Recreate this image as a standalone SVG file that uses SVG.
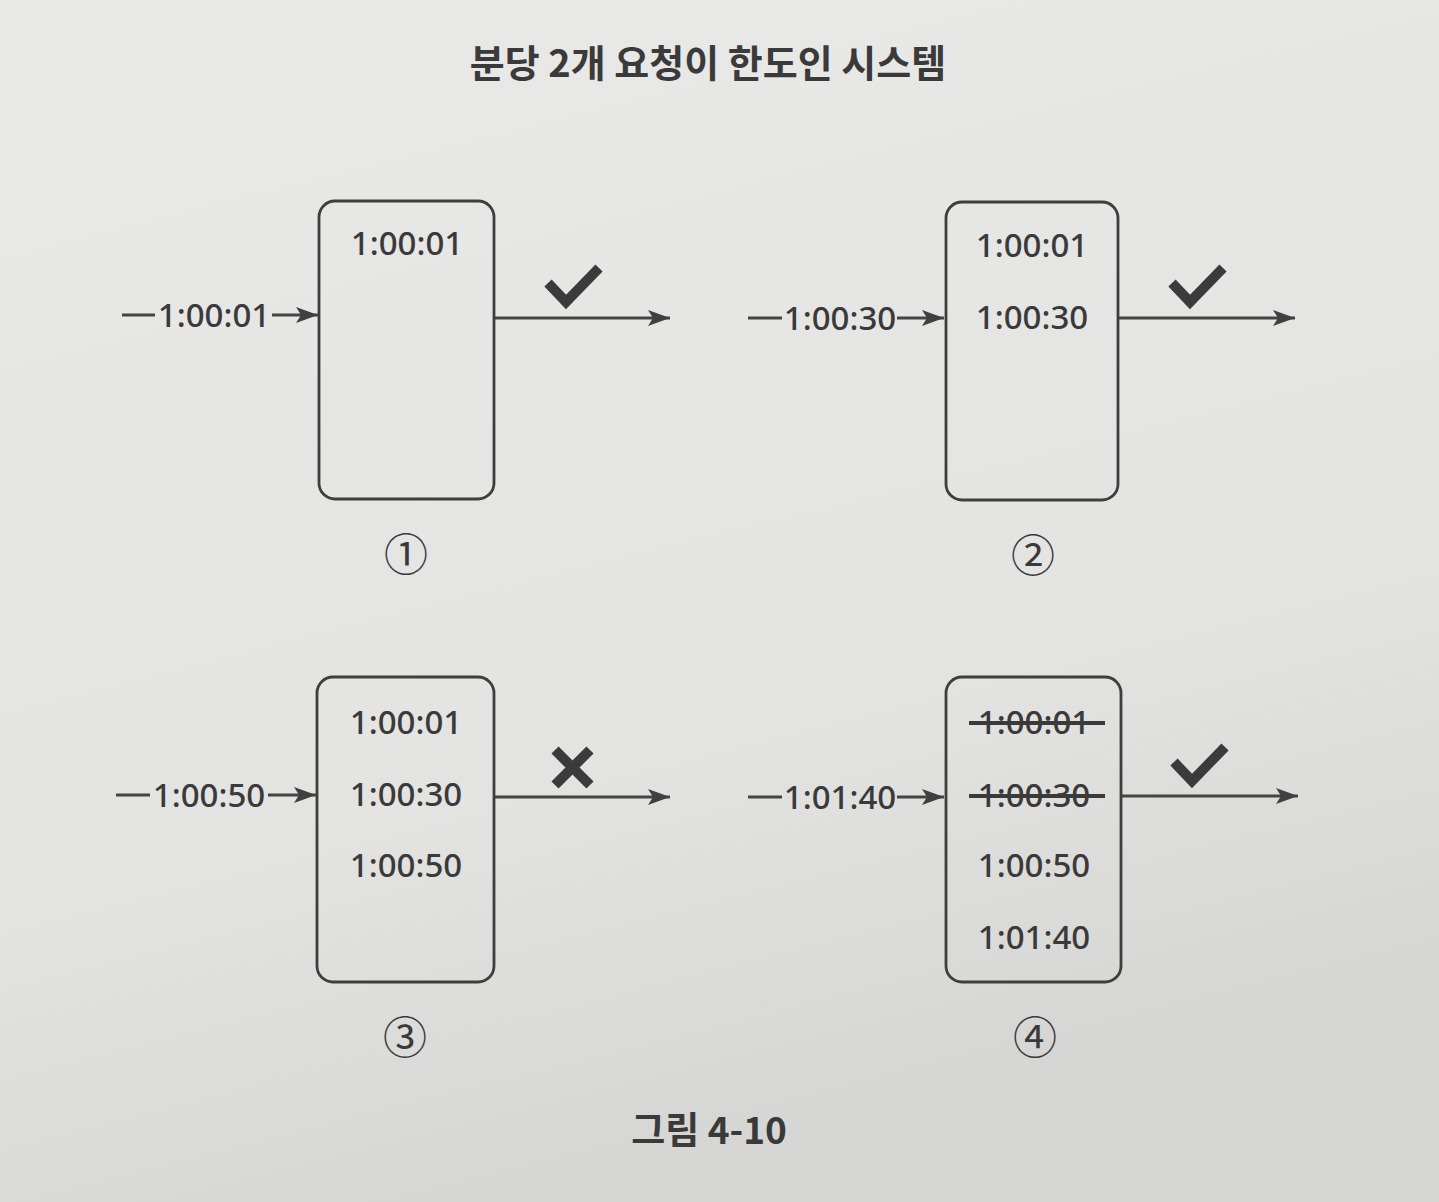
<svg xmlns="http://www.w3.org/2000/svg" width="1439" height="1202" viewBox="0 0 1439 1202">
<defs>
<linearGradient id="bg" x1="0" y1="0" x2="0.3" y2="1">
<stop offset="0" stop-color="#e9e9e7"/>
<stop offset="0.7" stop-color="#e3e3e1"/>
<stop offset="1" stop-color="#d6d6d4"/>
</linearGradient>
<marker id="ah" markerWidth="24" markerHeight="20" refX="22" refY="10" orient="auto" markerUnits="userSpaceOnUse">
<path d="M0,2 L22,10 L0,18 L5,10 Z" fill="#404040"/>
</marker>
<style>
.box{fill:none;stroke:#3e3e3e;stroke-width:2.8}
.ln{fill:none;stroke:#444;stroke-width:2.8}
.t{font-family:"Noto Sans","Noto Sans CJK KR",sans-serif;font-size:33px;font-weight:500;fill:#3a3a3a;text-anchor:middle}
.h{font-family:"Noto Sans CJK KR","Noto Sans",sans-serif;font-weight:bold;fill:#3a3a3a;text-anchor:middle}
.n{font-family:"Noto Sans CJK KR","Noto Sans",sans-serif;font-size:44px;fill:#3a3a3a;text-anchor:middle}
.mk{fill:none;stroke:#3b3b3b;stroke-width:10}
.st{stroke:#3a3a3a;stroke-width:4}
</style>
</defs>
<rect width="1439" height="1202" fill="url(#bg)"/>
<text class="h" x="708" y="77" font-size="38">분당 2개 요청이 한도인 시스템</text>

<g id="connectors">
<line class="ln" x1="122" y1="315" x2="155" y2="315"/>
<line class="ln" x1="272" y1="315" x2="318" y2="315" marker-end="url(#ah)"/>
<line class="ln" x1="494" y1="318" x2="670" y2="318" marker-end="url(#ah)"/>
<line class="ln" x1="748" y1="318" x2="782" y2="318"/>
<line class="ln" x1="897" y1="318" x2="944" y2="318" marker-end="url(#ah)"/>
<line class="ln" x1="1118" y1="318" x2="1295" y2="318" marker-end="url(#ah)"/>
<line class="ln" x1="116" y1="795" x2="150" y2="795"/>
<line class="ln" x1="268" y1="795" x2="316" y2="795" marker-end="url(#ah)"/>
<line class="ln" x1="494" y1="797" x2="670" y2="797" marker-end="url(#ah)"/>
<line class="ln" x1="748" y1="797" x2="782" y2="797"/>
<line class="ln" x1="897" y1="797" x2="944" y2="797" marker-end="url(#ah)"/>
<line class="ln" x1="1121" y1="796" x2="1298" y2="796" marker-end="url(#ah)"/>
</g>

<g id="panel1">
<rect class="box" x="319" y="201" width="175" height="298" rx="16"/>
<text class="t" x="407" y="255">1:00:01</text>
<text class="t" x="214" y="327">1:00:01</text>
<polyline class="mk" points="548,283 566,302 599,268"/>
<text class="n" x="406" y="571">①</text>
</g>

<g id="panel2">
<rect class="box" x="946" y="202" width="172" height="298" rx="16"/>
<text class="t" x="1032" y="257">1:00:01</text>
<text class="t" x="1032" y="329">1:00:30</text>
<text class="t" x="840" y="330">1:00:30</text>
<polyline class="mk" points="1172,283 1190,302 1223,268"/>
<text class="n" x="1033" y="572">②</text>
</g>

<g id="panel3">
<rect class="box" x="317" y="677" width="177" height="305" rx="16"/>
<text class="t" x="406" y="734">1:00:01</text>
<text class="t" x="406" y="806">1:00:30</text>
<text class="t" x="406" y="877">1:00:50</text>
<text class="t" x="209" y="807">1:00:50</text>
<path class="mk" d="M555,750 L590,785 M590,750 L555,785"/>
<text class="n" x="405" y="1054">③</text>
</g>

<g id="panel4">
<rect class="box" x="946" y="677" width="175" height="305" rx="16"/>
<text class="t" x="1034" y="734">1:00:01</text>
<line class="st" x1="969" y1="723" x2="1105" y2="723"/>
<text class="t" x="1034" y="807">1:00:30</text>
<line class="st" x1="969" y1="796" x2="1105" y2="796"/>
<text class="t" x="1034" y="877">1:00:50</text>
<text class="t" x="1034" y="949">1:01:40</text>
<text class="t" x="840" y="809">1:01:40</text>
<polyline class="mk" points="1174,762 1192,781 1225,747"/>
<text class="n" x="1035" y="1054">④</text>
</g>

<text class="h" x="709" y="1144" font-size="37">그림 4-10</text>
</svg>
